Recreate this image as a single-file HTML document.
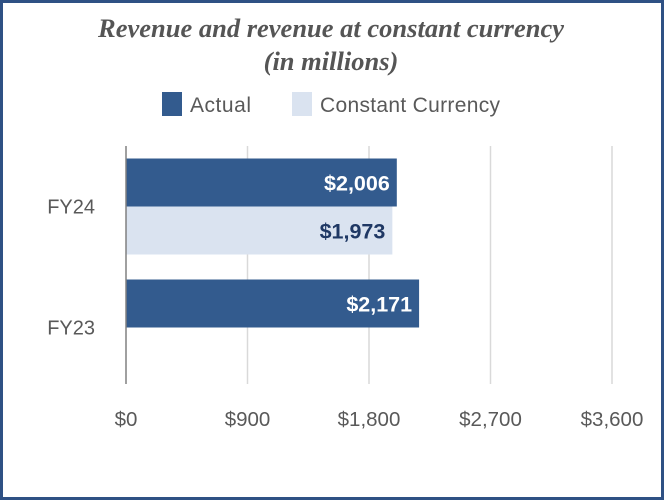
<!DOCTYPE html>
<html><head><meta charset="utf-8"><style>
body{margin:0;background:#fff}
#c{position:relative;width:664px;height:500px;box-sizing:border-box;border:3px solid #2f5184;background:#fff;overflow:hidden}
svg{position:absolute;left:-3px;top:-3px}
</style></head><body>
<div id="c">
<svg id="s" width="664" height="500">
<text x="331" y="37" text-anchor="middle" font-family="Liberation Serif, serif" font-style="italic" font-weight="bold" font-size="26.5" fill="#555">Revenue and revenue at constant currency</text>
<text x="331" y="70" text-anchor="middle" font-family="Liberation Serif, serif" font-style="italic" font-weight="bold" font-size="26.5" fill="#555">(in millions)</text>
<rect x="162" y="92" width="20" height="24" fill="#335b8e"/>
<text x="190" y="112" font-family="Liberation Sans, sans-serif" font-size="21" fill="#595959" textLength="61">Actual</text>
<rect x="292" y="92" width="20" height="24" fill="#dae3f0"/>
<text x="320" y="112" font-family="Liberation Sans, sans-serif" font-size="21" fill="#595959" textLength="180">Constant Currency</text>
<g id="grid"></g><g id="bars"></g><g id="labels"></g>
</svg>
</div>
<script>
const categories=["FY24","FY23"];
const actual=[2006,2171];
const constant=[1973,null];
const ticks=[0,900,1800,2700,3600];
const tickLabels=["$0","$900","$1,800","$2,700","$3,600"];
const NS="http://www.w3.org/2000/svg";
const x0=126,x1=612,yTop=146,yBot=388;
const xs=v=>x0+(v/3600)*(x1-x0);
const bandH=(yBot-yTop)/categories.length;
const barH=48;
const svg=document.getElementById('s');
function mk(t,a,p){const e=document.createElementNS(NS,t);for(const k in a)e.setAttribute(k,a[k]);p.appendChild(e);return e;}
const g=document.getElementById('grid'),b=document.getElementById('bars'),l=document.getElementById('labels');
ticks.forEach((t,i)=>{
 if(i>0){const ln=mk('line',{x1:xs(t),x2:xs(t),y1:yTop,y2:yBot-4,stroke:'#d9d9d9','stroke-width':1.5},g);
 
 }
 const tx=mk('text',{x:xs(t),y:426,'text-anchor':'middle','font-family':'Liberation Sans, sans-serif','font-size':20.5,fill:'#595959'},l);
 tx.textContent=tickLabels[i];
 
 
});
categories.forEach((c,i)=>{
 const bandTop=yTop+i*bandH;
 const start=bandTop+(bandH-2*barH)/2;
 const r=mk('rect',{x:x0,y:start,width:xs(actual[i])-x0,height:barH,fill:'#335b8e'},b);
 
 
 const t=mk('text',{x:xs(actual[i])-7,y:start+barH/2+8,'text-anchor':'end','font-family':'Liberation Sans, sans-serif','font-weight':'bold','font-size':21.5,fill:'#fff'},l);
 t.textContent='$'+actual[i].toLocaleString('en-US');
 
 
 if(constant[i]!=null){
  const r2=mk('rect',{x:x0,y:start+barH,width:xs(constant[i])-x0,height:barH,fill:'#dae3f0'},b);
  
  
  const t2=mk('text',{x:xs(constant[i])-7,y:start+barH*1.5+8,'text-anchor':'end','font-family':'Liberation Sans, sans-serif','font-weight':'bold','font-size':21.5,fill:'#1f3864'},l);
  t2.textContent='$'+constant[i].toLocaleString('en-US');
  
  
 }
 const ct=mk('text',{x:95,y:bandTop+bandH/2+7,'text-anchor':'end','font-family':'Liberation Sans, sans-serif','font-size':20,fill:'#595959'},l);
 ct.textContent=c;
 
 
});
const ax=mk('line',{x1:x0,x2:x0,y1:yTop,y2:yBot-4,stroke:'#808080','stroke-width':1.5},svg);


</script>
</body></html>
